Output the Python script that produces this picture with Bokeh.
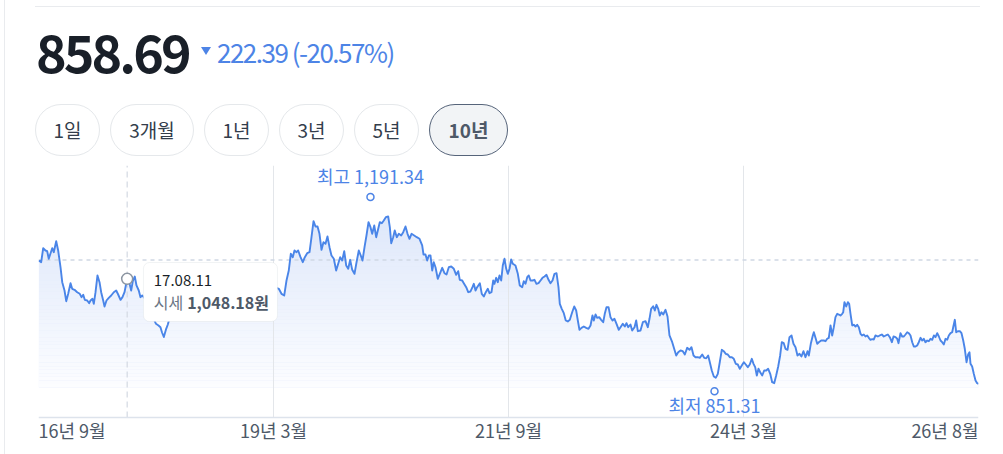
from bokeh.plotting import figure
from bokeh.models import Div, Range1d, BoxAnnotation, Label
from bokeh.layouts import column, row
from bokeh.core.properties import value
from bokeh.embed import file_html
from bokeh.resources import INLINE

# ---------------- data ----------------
PRICE = 858.69
CHANGE = -222.39
CHANGE_PCT = -20.57
PERIODS = ["1일", "3개월", "1년", "3년", "5년", "10년"]
ACTIVE_PERIOD = "10년"

START_VALUE = 1081.08          # reference (dashed) level = first value of period
HIGH_VALUE, HIGH_MONTH = 1191.34, 42.38
LOW_VALUE, LOW_MONTH = 851.31, 86.30
TIP_DATE, TIP_MONTH, TIP_VALUE = "17.08.11", 11.32, 1048.18

TICK_MONTHS = [0, 30, 60, 90, 120]          # months since 2016-09
TICK_LABELS = ["16년 9월", "19년 3월", "21년 9월", "24년 3월", "26년 8월"]

MONTHS = [
    0.04, 0.34, 0.60, 0.89, 1.11, 1.31, 1.53, 1.75, 1.95, 2.26,
    2.51, 2.81, 3.03, 3.32, 3.54, 3.79, 4.09, 4.30, 4.60, 4.94,
    5.27, 5.49, 5.71, 5.91, 6.22, 6.47, 6.64, 6.89, 7.06, 7.28,
    7.53, 7.79, 8.00, 8.26, 8.43, 8.68, 8.97, 9.28, 9.61, 9.92,
    10.17, 10.47, 10.72, 10.98, 11.23, 11.32, 11.62, 11.83, 12.04, 12.29,
    12.51, 12.80, 13.02, 13.24, 13.79, 14.30, 14.68, 15.00, 15.32, 15.57,
    15.77, 16.00, 16.30, 16.51, 16.72, 17.23, 17.74, 18.26, 18.77, 19.28,
    19.79, 20.30, 20.81, 21.32, 21.83, 22.34, 22.85, 23.36, 23.87, 24.38,
    24.89, 25.40, 25.91, 26.43, 26.94, 27.45, 27.96, 28.47, 28.98, 29.49,
    30.00, 30.68, 31.02, 31.37, 31.66, 31.95, 32.21, 32.46, 32.68, 32.94,
    33.15, 33.45, 33.74, 34.00, 34.30, 34.60, 34.85, 35.11, 35.36, 35.62,
    35.87, 36.13, 36.38, 36.64, 36.89, 37.15, 37.40, 37.70, 38.00, 38.26,
    38.51, 38.77, 39.03, 39.28, 39.54, 39.79, 40.05, 40.34, 40.60, 40.89,
    41.14, 41.36, 41.62, 41.87, 42.13, 42.38, 42.60, 42.86, 43.11, 43.37,
    43.57, 43.83, 44.08, 44.34, 44.64, 44.85, 45.03, 45.28, 45.48, 45.74,
    46.00, 46.30, 46.56, 46.85, 47.11, 47.36, 47.62, 47.96, 48.29, 48.64,
    48.98, 49.15, 49.40, 49.62, 49.83, 50.04, 50.26, 50.46, 50.68, 50.97,
    51.23, 51.54, 51.83, 52.09, 52.38, 52.69, 53.02, 53.32, 53.58, 53.78,
    54.09, 54.29, 54.60, 54.86, 55.15, 55.40, 55.57, 55.79, 56.00, 56.34,
    56.59, 56.85, 57.10, 57.36, 57.57, 57.83, 58.05, 58.21, 58.43, 58.63,
    58.85, 59.07, 59.27, 59.49, 59.71, 59.91, 60.13, 60.34, 60.55, 60.89,
    61.19, 61.44, 61.75, 61.95, 62.17, 62.39, 62.59, 62.81, 63.06, 63.32,
    63.57, 63.83, 64.09, 64.34, 64.60, 64.85, 65.11, 65.36, 65.62, 65.87,
    66.13, 66.38, 66.55, 66.80, 67.06, 67.31, 67.57, 67.83, 68.13, 68.39,
    68.64, 68.85, 69.06, 69.32, 69.61, 69.92, 70.21, 70.47, 70.72, 70.89,
    71.11, 71.32, 71.58, 71.83, 72.09, 72.29, 72.51, 72.77, 73.02, 73.28,
    73.53, 73.79, 74.08, 74.30, 74.59, 74.85, 75.06, 75.28, 75.57, 75.79,
    76.09, 76.30, 76.51, 76.85, 77.15, 77.49, 77.78, 78.00, 78.21, 78.47,
    78.68, 78.89, 79.11, 79.31, 79.53, 79.75, 80.04, 80.30, 80.55, 80.90,
    81.15, 81.41, 81.66, 81.96, 82.25, 82.51, 82.81, 83.11, 83.36, 83.62,
    83.87, 84.16, 84.42, 84.73, 84.98, 85.24, 85.49, 85.70, 85.95, 86.21,
    86.46, 86.72, 86.97, 87.23, 87.48, 87.74, 87.99, 88.25, 88.51, 88.76,
    89.02, 89.27, 89.53, 89.78, 90.04, 90.29, 90.55, 90.80, 91.06, 91.28,
    91.49, 91.70, 91.91, 92.13, 92.39, 92.64, 92.90, 93.15, 93.41, 93.66,
    93.92, 94.17, 94.43, 94.68, 94.89, 95.14, 95.36, 95.62, 95.87, 96.13,
    96.38, 96.64, 96.89, 97.15, 97.40, 97.66, 97.91, 98.17, 98.34, 98.59,
    98.85, 98.98, 99.19, 99.41, 99.61, 99.92, 100.25, 100.47, 100.68, 100.89,
    101.11, 101.32, 101.53, 101.74, 101.96, 102.17, 102.38, 102.60, 102.73, 102.89,
    103.11, 103.32, 103.49, 103.66, 103.88, 104.08, 104.30, 104.51, 104.72, 104.94,
    105.15, 105.36, 105.57, 105.79, 106.00, 106.21, 106.43, 106.64, 106.85, 107.15,
    107.40, 107.66, 107.91, 108.17, 108.43, 108.68, 108.94, 109.15, 109.41, 109.62,
    109.79, 110.04, 110.26, 110.47, 110.68, 110.90, 111.10, 111.32, 111.54, 111.74,
    111.96, 112.17, 112.38, 112.60, 112.81, 113.02, 113.23, 113.45, 113.66, 113.87,
    114.09, 114.30, 114.51, 114.73, 114.94, 115.15, 115.36, 115.57, 115.79, 116.00,
    116.21, 116.43, 116.64, 116.77, 116.98, 117.15, 117.36, 117.62, 117.83, 118.05,
    118.25, 118.47, 118.68, 118.85, 118.98, 119.19, 119.40, 119.62, 119.83, 120.00,
]

VALUES = [
    1080.2, 1077.2, 1101.7, 1097.7, 1096.5, 1083.2, 1092.5, 1101.7, 1094.7, 1114.0,
    1097.7, 1068.5, 1042.2, 1027.7, 1009.0, 1021.9, 1040.5, 1030.7, 1028.9, 1024.7,
    1021.9, 1016.0, 1020.2, 1011.4, 1010.2, 1005.5, 1010.2, 1013.2, 1004.4, 1024.7,
    1054.0, 1042.2, 1024.7, 1010.2, 999.7, 1010.2, 1014.9, 1019.0, 1024.7, 1027.7,
    1020.7, 1011.4, 1016.0, 1024.7, 1042.2, 1048.2, 1040.0, 1027.7, 1044.0, 1052.2,
    1036.5, 1027.7, 1016.0, 1019.0, 1010.2, 992.7, 978.7, 969.4, 966.5, 963.5,
    954.2, 946.3, 960.7, 968.2, 978.7, 992.7, 1006.7, 999.7, 1015.5, 1010.2,
    1017.2, 1003.2, 994.5, 989.2, 998.0, 991.0, 1001.5, 1005.0, 998.0, 1006.7,
    1012.0, 996.2, 991.0, 999.7, 994.5, 1005.0, 1010.2, 1024.2, 1033.0, 1027.7,
    1034.7, 1030.7, 1021.9, 1019.0, 1045.2, 1062.7, 1091.9, 1086.0, 1097.7, 1094.7,
    1097.7, 1086.0, 1077.2, 1086.0, 1093.0, 1094.7, 1121.0, 1149.0, 1139.7, 1139.7,
    1126.9, 1098.9, 1112.2, 1109.4, 1122.2, 1103.5, 1089.0, 1083.2, 1062.7, 1074.4,
    1086.0, 1080.2, 1096.5, 1071.5, 1065.7, 1081.4, 1063.9, 1056.9, 1077.2, 1097.7,
    1089.0, 1080.2, 1103.5, 1124.0, 1147.2, 1138.5, 1126.9, 1141.5, 1121.0, 1135.7,
    1147.2, 1145.5, 1150.2, 1156.0, 1157.2, 1138.5, 1110.5, 1121.0, 1132.7, 1121.0,
    1126.9, 1124.0, 1129.7, 1139.7, 1126.9, 1118.2, 1126.9, 1124.0, 1121.0, 1118.2,
    1106.5, 1090.7, 1090.7, 1080.2, 1089.0, 1089.0, 1062.7, 1077.2, 1068.5, 1048.2,
    1056.9, 1067.4, 1058.0, 1055.7, 1068.5, 1069.7, 1065.7, 1055.2, 1061.5, 1046.4,
    1045.2, 1040.5, 1033.5, 1024.7, 1026.0, 1033.5, 1039.4, 1027.7, 1033.5, 1040.5,
    1021.9, 1017.2, 1024.7, 1030.7, 1023.0, 1024.7, 1045.2, 1039.4, 1049.9, 1042.2,
    1054.0, 1045.2, 1071.5, 1083.2, 1065.7, 1056.9, 1065.7, 1082.0, 1074.4, 1071.5,
    1056.9, 1036.5, 1033.5, 1044.0, 1039.4, 1051.0, 1054.0, 1045.2, 1045.2, 1046.4,
    1039.4, 1040.5, 1045.2, 1049.9, 1052.2, 1055.2, 1046.4, 1040.5, 1045.2, 1056.9,
    1058.0, 1033.5, 1004.4, 995.7, 988.0, 975.2, 973.5, 976.4, 989.7, 999.7,
    992.7, 975.2, 958.9, 962.4, 964.7, 962.4, 960.7, 966.5, 984.0, 975.2,
    985.7, 979.9, 981.0, 976.4, 972.2, 986.9, 998.5, 998.5, 981.0, 975.2,
    978.2, 969.4, 958.9, 963.5, 969.4, 964.7, 970.5, 963.5, 968.2, 957.7,
    963.5, 975.2, 956.5, 957.7, 972.2, 974.0, 963.5, 978.2, 995.7, 1000.2,
    992.7, 1002.7, 995.7, 984.0, 989.7, 985.7, 993.9, 982.2, 949.0, 937.2,
    925.7, 914.0, 919.7, 922.7, 921.5, 915.7, 927.4, 923.9, 928.5, 914.0,
    911.0, 911.0, 909.9, 915.7, 909.9, 909.2, 914.0, 902.2, 887.7, 877.2,
    874.9, 881.9, 902.2, 923.9, 921.5, 916.9, 915.7, 911.0, 911.0, 908.2,
    899.4, 898.2, 890.7, 896.5, 902.2, 898.2, 893.5, 898.2, 908.2, 899.4,
    893.5, 879.0, 890.7, 884.7, 879.0, 887.7, 887.7, 890.7, 881.9, 867.2,
    865.5, 879.0, 894.7, 914.0, 937.2, 935.5, 925.7, 923.9, 946.0, 949.0,
    934.4, 928.5, 914.0, 916.9, 912.2, 921.5, 911.0, 921.5, 914.0, 934.4,
    949.0, 954.7, 944.9, 934.4, 937.2, 940.2, 940.2, 939.0, 943.2, 944.9,
    966.5, 949.0, 963.5, 981.0, 986.9, 985.7, 984.0, 986.9, 989.7, 1007.2,
    999.7, 1007.2, 1004.4, 986.9, 966.5, 967.7, 964.7, 967.7, 963.5, 951.9,
    949.0, 950.7, 947.2, 949.0, 944.9, 941.4, 942.5, 942.0, 949.0, 947.2,
    949.0, 950.7, 947.2, 949.0, 950.7, 946.0, 937.2, 947.2, 946.0, 943.2,
    935.5, 953.0, 947.2, 947.2, 950.7, 954.7, 953.0, 949.0, 937.2, 929.7,
    929.7, 931.5, 937.2, 944.9, 940.2, 943.2, 937.2, 940.2, 939.0, 943.2,
    941.4, 949.0, 946.0, 953.0, 947.2, 940.2, 937.2, 933.2, 943.2, 941.4,
    949.0, 953.0, 954.7, 963.5, 976.4, 954.7, 956.5, 956.5, 953.0, 940.2,
    925.7, 902.2, 915.7, 919.7, 899.4, 894.7, 881.9, 870.2, 865.5, 864.4,
]

# ---------------- styling / layout ----------------
FONT = "Noto Sans CJK KR"
BLUE = "#4a85e8"
TEXT_BLUE = "#4d84e6"
CARD_LINE = "#e9ebee"
PAGE_W = 1003
HEADER_H = 158
FIG_H = 296
GUTTER_W = 5                                 # left strip holding the card's border
FIG_W = PAGE_W - GUTTER_W
BTN_W = [65, 84, 65, 65, 65, 79]

X_START, X_END = 0, 120
Y_TOP = 1246.455
FRAME_TOP_PAD = 7
FRAME_H = FIG_H - FRAME_TOP_PAD
UPP = 1.75                                   # data units per pixel (y)
Y_BOTTOM = Y_TOP - FRAME_H * UPP
MPP = (X_END - X_START) / 940.0              # months per pixel (x)
BASE = Y_TOP - 252 * UPP                     # chart floor (x-axis line)
FILL_FLOOR = BASE + 30 * UPP                 # lower edge of the area gradient

# ---------------- header (HTML) ----------------
tri = "border-top:8px solid %s;" % TEXT_BLUE if CHANGE < 0 else "border-bottom:8px solid #f04452;"
buttons = []
left = 35
for lab, w in zip(PERIODS, BTN_W):
    if lab == ACTIVE_PERIOD:
        st = "border:1px solid #56647a;background:#f2f4f6;color:#4e5968;font-weight:700;"
    else:
        st = "border:1px solid #e5e8eb;background:#ffffff;color:#333d4b;font-weight:400;"
    buttons.append(
        f'<div style="position:absolute;top:104px;left:{left}px;width:{w}px;height:52px;'
        f'box-sizing:border-box;border-radius:26px;display:flex;align-items:center;'
        f'justify-content:center;font-size:19px;{st}">{lab}</div>')
    left += w + 10

html = (
    f'<div style="position:relative;width:{PAGE_W}px;height:{HEADER_H}px;'
    f"font-family:'{FONT}',sans-serif;\">"
    f'<div style="position:absolute;left:4px;top:0;width:1px;height:{HEADER_H}px;background:{CARD_LINE};"></div>'
    f'<div style="position:absolute;left:35px;top:6px;width:945px;height:1px;background:{CARD_LINE};"></div>'
    f'<div style="position:absolute;left:36px;top:25px;font-size:52px;font-weight:700;'
    f'color:#191f28;line-height:1;letter-spacing:-2.9px;white-space:nowrap;">{PRICE:.2f}</div>'
    f'<div style="position:absolute;left:201px;top:47px;width:0;height:0;'
    f'border-left:5.5px solid transparent;border-right:5.5px solid transparent;{tri}"></div>'
    f'<div style="position:absolute;left:217px;top:39px;font-size:26px;color:{TEXT_BLUE};'
    f'line-height:1;letter-spacing:-1.5px;white-space:nowrap;">'
    f'{abs(CHANGE):.2f} ({CHANGE_PCT:.2f}%)</div>'
    + "".join(buttons) + "</div>")

header = Div(text=html, width=PAGE_W, height=HEADER_H, margin=0)
gutter = Div(text=(f'<div style="position:relative;width:{GUTTER_W}px;height:{FIG_H}px;">'
                   f'<div style="position:absolute;left:4px;top:0;width:1px;height:{FIG_H}px;'
                   f'background:{CARD_LINE};"></div></div>'),
             width=GUTTER_W, height=FIG_H, margin=0)

# ---------------- chart ----------------
p = figure(width=FIG_W, height=FIG_H, x_range=Range1d(X_START, X_END),
           y_range=Range1d(Y_BOTTOM, Y_TOP), x_axis_type=None, y_axis_type=None,
           toolbar_location=None, output_backend="svg",
           min_border_left=38 - GUTTER_W, min_border_right=FIG_W - (38 - GUTTER_W) - 940,
           min_border_top=FRAME_TOP_PAD, min_border_bottom=0,
           outline_line_color=None, background_fill_color="white",
           border_fill_color="white")
p.grid.visible = False

# area under line with fading fill (solid tint + white bands growing opaque downward)
p.varea(x=MONTHS, y1=[FILL_FLOOR] * len(MONTHS), y2=VALUES, fill_color="#dfe8fb", fill_alpha=1.0)
N = 48
vmax = max(VALUES)
bots, tops, alphas = [], [], []
for i in range(N):
    bots.append(FILL_FLOOR + (vmax - FILL_FLOOR) * i / N)
    tops.append(FILL_FLOOR + (vmax - FILL_FLOOR) * (i + 1) / N)
    alphas.append(0.9 * (1 - (i + 0.5) / N))
p.quad(left=[X_START] * N, right=[X_END] * N, bottom=bots, top=tops,
       fill_color="white", fill_alpha=alphas, line_color=None)

# grid lines at middle ticks
mid = TICK_MONTHS[1:-1]
p.segment(x0=mid, y0=[BASE] * len(mid), x1=mid, y1=[Y_TOP] * len(mid),
          line_color="#e3e6ea", line_width=1)
# crosshair
p.line([TIP_MONTH, TIP_MONTH], [BASE, Y_TOP], line_color="#d3d9e2",
       line_width=1.2, line_dash="6 4")
# reference level
p.line([X_START, X_END], [START_VALUE, START_VALUE], line_color="#cfd7e4",
       line_width=1.5, line_dash="4 4")
# x axis line
p.line([X_START, X_END], [BASE, BASE], line_color="#dde3ec", line_width=1.5)

# price line
p.line(MONTHS, VALUES, line_color=BLUE, line_width=1.9, line_join="round")

# tick labels
label_y = BASE - 12.7 * UPP
tf = value(FONT)
p.text(x=TICK_MONTHS[:1], y=[label_y], text=TICK_LABELS[:1], text_align="left",
       text_baseline="alphabetic", text_font=tf, text_font_size="18px", text_color="#4e5968")
p.text(x=mid, y=[label_y] * len(mid), text=TICK_LABELS[1:-1], text_align="center",
       text_baseline="alphabetic", text_font=tf, text_font_size="18px", text_color="#4e5968")
p.text(x=TICK_MONTHS[-1:], y=[label_y], text=TICK_LABELS[-1:], text_align="right",
       text_baseline="alphabetic", text_font=tf, text_font_size="18px", text_color="#4e5968")

# high / low markers
p.scatter([HIGH_MONTH, LOW_MONTH], [HIGH_VALUE, LOW_VALUE], size=7, fill_color="white",
          line_color=TEXT_BLUE, line_width=1.5)
p.text(x=[HIGH_MONTH], y=[HIGH_VALUE + 20.8 * UPP], text=[f"최고 {HIGH_VALUE:,.2f}"],
       text_align="center", text_baseline="alphabetic", text_font=tf,
       text_font_size="18px", text_color=TEXT_BLUE)
p.text(x=[LOW_MONTH], y=[LOW_VALUE - 13.9 * UPP], text=[f"최저 {LOW_VALUE:,.2f}"],
       text_align="center", text_baseline="alphabetic", text_font=tf,
       text_font_size="18px", text_color=TEXT_BLUE)

# tooltip point
p.scatter([TIP_MONTH], [TIP_VALUE], size=11, fill_color="white",
          line_color="#8b95a1", line_width=1.5)
box = BoxAnnotation(left=TIP_MONTH + 16.3 * MPP, right=TIP_MONTH + 150.3 * MPP,
                    top=TIP_VALUE + 16.3 * UPP, bottom=TIP_VALUE - 42.7 * UPP,
                    fill_color="white", fill_alpha=1.0, line_color="#d1d6db",
                    line_width=1, border_radius=6)
p.add_layout(box)
p.add_layout(Label(x=TIP_MONTH + 26.6 * MPP, y=TIP_VALUE - 1.4 * UPP, text=TIP_DATE,
                   text_font=FONT, text_font_size="15px", text_color="#191f28",
                   text_baseline="alphabetic", text_align="left"))
p.add_layout(Label(x=TIP_MONTH + 26.6 * MPP, y=TIP_VALUE - 23 * UPP, text="시세",
                   text_font=FONT, text_font_size="16px", text_color="#6b7684",
                   text_baseline="alphabetic", text_align="left"))
p.add_layout(Label(x=TIP_MONTH + 60 * MPP, y=TIP_VALUE - 23 * UPP,
                   text=f"{TIP_VALUE:,.2f}원", text_font=FONT, text_font_size="16px",
                   text_font_style="bold", text_color="#4e5968",
                   text_baseline="alphabetic", text_align="left"))

layout = column(header, row(gutter, p, spacing=0, margin=0), spacing=0, margin=0)
open("out.html", "w").write(file_html(layout, INLINE))
